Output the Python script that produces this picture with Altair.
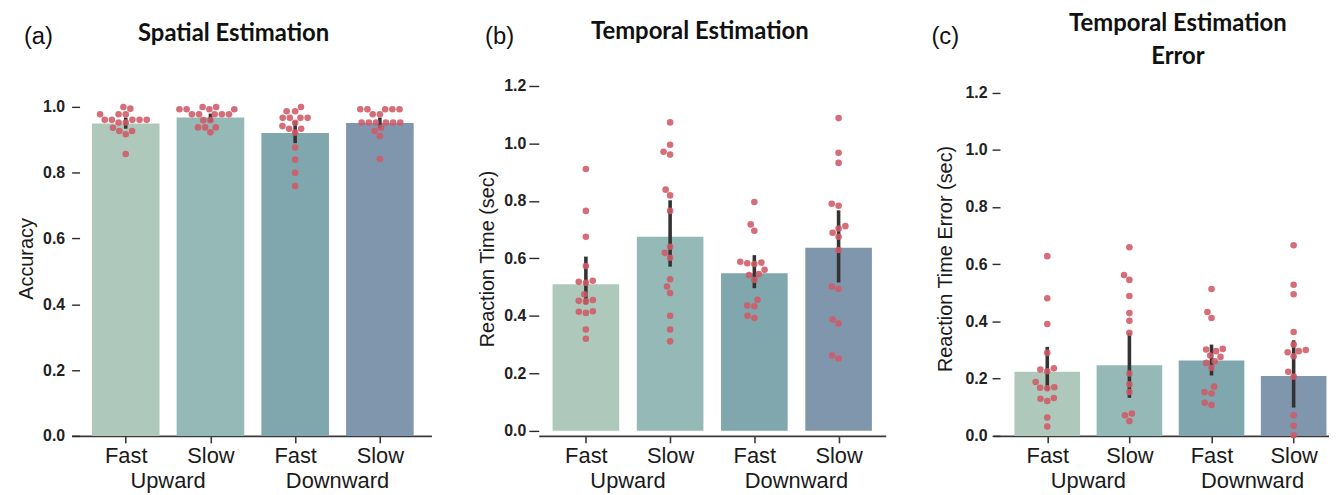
import altair as alt
import pandas as pd

# ---------------- data ----------------
conditions = ["Fast", "Slow", "Fast", "Slow"]
groups = ["Upward", "Downward"]
group_centers = [0.5, 2.5]
bar_colors = ["#aec9bb", "#95b9b6", "#80a6ae", "#8096ad"]
point_color = "#cf5a66"

# (a) Spatial Estimation - accuracy
spatial_mean = [0.950, 0.968, 0.921, 0.951]
spatial_lo = [0.934, 0.955, 0.890, 0.935]
spatial_hi = [0.968, 0.980, 0.958, 0.968]
spatial_fast_up = [1.0, 0.995, 0.978, 0.978, 0.978, 0.961, 0.961, 0.961, 0.961, 0.961,
                   0.953, 0.953, 0.937, 0.927, 0.927, 0.917, 0.857]
spatial_slow_up = [1.0, 1.0, 0.993, 0.993, 0.993, 0.993, 0.978, 0.978, 0.978, 0.978,
                   0.978, 0.960, 0.960, 0.938, 0.938, 0.938, 0.923]
spatial_fast_down = [1.0, 0.987, 0.987, 0.967, 0.967, 0.967, 0.967, 0.952, 0.942, 0.934,
                     0.934, 0.922, 0.877, 0.840, 0.800, 0.760]
spatial_slow_down = [0.993, 0.993, 0.993, 0.993, 0.993, 0.978, 0.978, 0.953, 0.953, 0.953,
                     0.953, 0.953, 0.953, 0.937, 0.927, 0.912, 0.842]

# (b) Temporal Estimation - reaction time (sec)
temporal_mean = [0.510, 0.675, 0.548, 0.637]
temporal_lo = [0.440, 0.571, 0.496, 0.516]
temporal_hi = [0.606, 0.802, 0.611, 0.767]
temporal_fast_up = [0.911, 0.765, 0.675, 0.573, 0.522, 0.518, 0.515, 0.475, 0.455, 0.452,
                    0.450, 0.416, 0.414, 0.410, 0.352, 0.320]
temporal_slow_up = [1.073, 0.995, 0.971, 0.961, 0.839, 0.819, 0.765, 0.640, 0.619, 0.602,
                    0.527, 0.502, 0.479, 0.400, 0.352, 0.311]
temporal_fast_down = [0.796, 0.718, 0.696, 0.588, 0.585, 0.583, 0.580, 0.560, 0.545, 0.542,
                      0.525, 0.456, 0.436, 0.433, 0.400, 0.392]
temporal_slow_down = [1.088, 0.967, 0.932, 0.790, 0.783, 0.712, 0.704, 0.689, 0.675, 0.629,
                      0.502, 0.493, 0.387, 0.373, 0.262, 0.251]

# (c) Temporal Estimation Error - reaction time error (sec)
error_mean = [0.224, 0.247, 0.263, 0.209]
error_lo = [0.160, 0.133, 0.211, 0.099]
error_hi = [0.311, 0.360, 0.319, 0.334]
error_fast_up = [0.628, 0.481, 0.391, 0.290, 0.236, 0.232, 0.226, 0.188, 0.170, 0.168,
                 0.166, 0.132, 0.130, 0.122, 0.064, 0.033]
error_slow_up = [0.659, 0.562, 0.545, 0.489, 0.429, 0.402, 0.360, 0.218, 0.180, 0.153,
                 0.078, 0.072, 0.052]
error_fast_down = [0.513, 0.433, 0.412, 0.304, 0.302, 0.296, 0.281, 0.276, 0.261, 0.255,
                   0.238, 0.172, 0.153, 0.148, 0.116, 0.108]
error_slow_down = [0.666, 0.528, 0.495, 0.363, 0.319, 0.300, 0.296, 0.292, 0.278, 0.224,
                   0.207, 0.072, 0.035, 0.002]

# ---------------- layout constants ----------------
H = 357
DOT = 7.4
FONT = "Liberation Sans"
TITLE_FONT = "Lato"


def swarm(values, px_per_y, d):
    """Simple beeswarm: pixel x-offsets so that dots of diameter d do not overlap."""
    ys = [v * px_per_y for v in values]
    order = sorted(range(len(values)), key=lambda i: values[i])
    placed = []
    offs = [0.0] * len(values)
    for i in order:
        y = ys[i]
        cands = [0.0]
        for px, py in placed:
            dy = abs(py - y)
            if dy < d:
                dx = (d * d - dy * dy) ** 0.5
                cands += [px + dx, px - dx]
        cands.sort(key=lambda c: (abs(c), c))
        chosen = 0.0
        for c in cands:
            if all((c - px) ** 2 + (y - py) ** 2 >= d * d - 1e-6 for px, py in placed):
                chosen = c
                break
        placed.append((chosen, y))
        offs[i] = chosen
    return offs


def panel(letter, title_lines, title_x, ytitle, means, los, his, series,
          xdom, width, ydom, yvals, bar_px, yaxis_offset, tick_size, label_pad,
          title_pad, letter_x, title_ys, clip_bars=False):
    px_x = width / (xdom[1] - xdom[0])
    px_y = H / (ydom[1] - ydom[0])

    bars = pd.DataFrame({"idx": list(range(4)), "mean": means, "lo": los, "hi": his,
                         "cond": [f"c{i}" for i in range(4)]})
    rows = []
    for i, vals in enumerate(series):
        offs = swarm(vals, px_y, DOT)
        for v, o in zip(vals, offs):
            rows.append({"xpos": i + o / px_x, "value": v})
    pts = pd.DataFrame(rows)

    xscale = alt.Scale(domain=xdom, nice=False, zero=False)
    yscale = alt.Scale(domain=ydom, nice=False, zero=False)

    xaxis = alt.Axis(values=[0, 1, 2, 3],
                     labelExpr="%s[datum.value]" % str(conditions),
                     title=None, grid=False, domainColor="#3a3a3a", domainWidth=1.6,
                     tickColor="#3a3a3a", tickWidth=1.6, tickSize=7, labelPadding=3,
                     labelFont=FONT, labelFontSize=22, labelColor="#1a1a1a",
                     labelFlush=False)
    yaxis = alt.Axis(values=yvals, format=".1f", domain=False, grid=False,
                     offset=yaxis_offset, tickSize=tick_size, tickColor="#2a2a2a",
                     tickWidth=1.4, labelPadding=label_pad, labelFont=FONT,
                     labelFontSize=16, labelFontWeight="bold", labelColor="#222222",
                     title=ytitle, titleFont=FONT, titleFontSize=20,
                     titleFontWeight="normal", titleColor="#1a1a1a",
                     titlePadding=title_pad)

    bar_layer = alt.Chart(bars).mark_bar(size=bar_px, clip=clip_bars).encode(
        x=alt.X("idx:Q", scale=xscale, axis=xaxis),
        y=alt.Y("mean:Q", scale=yscale, axis=yaxis),
        color=alt.Color("cond:N", scale=alt.Scale(domain=[f"c{i}" for i in range(4)],
                                                   range=bar_colors), legend=None),
    )
    err_layer = alt.Chart(bars).mark_rule(strokeWidth=3.6, color="#333333").encode(
        x="idx:Q", y="lo:Q", y2="hi:Q")
    pt_layer = alt.Chart(pts).mark_circle(size=44, color=point_color, opacity=0.88).encode(
        x="xpos:Q", y="value:Q")
    grp_layer = alt.Chart(pd.DataFrame({"g": groups, "gx": group_centers})).mark_text(
        font=FONT, fontSize=22, color="#1a1a1a", baseline="alphabetic", align="center"
    ).encode(x="gx:Q", y=alt.value(H + 52), text="g:N")

    layers = [bar_layer, err_layer, pt_layer, grp_layer]
    for line, ty in zip(title_lines, title_ys):
        layers.append(alt.Chart(pd.DataFrame({"t": [line]})).mark_text(
            font=TITLE_FONT, fontSize=24, fontWeight="bold", color="#111111",
            baseline="alphabetic", align="center"
        ).encode(x=alt.value(title_x), y=alt.value(ty), text="t:N"))
    layers.append(alt.Chart(pd.DataFrame({"t": [letter]})).mark_text(
        font=FONT, fontSize=24, color="#111111", baseline="alphabetic", align="left"
    ).encode(x=alt.value(letter_x), y=alt.value(-37), text="t:N"))

    return alt.layer(*layers).properties(width=width, height=H)


pa = panel("(a)", ["Spatial Estimation"], 163, "Accuracy",
           spatial_mean, spatial_lo, spatial_hi,
           [spatial_fast_up, spatial_slow_up, spatial_fast_down, spatial_slow_down],
           [-0.58, 3.55], 362, [0.0, 1.079], [0, 0.2, 0.4, 0.6, 0.8, 1.0], 68,
           -8, 8, 7, 6, -48, [-40])
pb = panel("(b)", ["Temporal Estimation"], 162, "Reaction Time (sec)",
           temporal_mean, temporal_lo, temporal_hi,
           [temporal_fast_up, temporal_slow_up, temporal_fast_down, temporal_slow_down],
           [-0.5, 3.5], 349, [-0.018, 1.217], [0, 0.2, 0.4, 0.6, 0.8, 1.0, 1.2], 67,
           0, 10, 3, 6, -54, [-42])
pc = panel("(c)", ["Temporal Estimation", "Error"], 186, "Reaction Time Error (sec)",
           error_mean, error_lo, error_hi,
           [error_fast_up, error_slow_up, error_fast_down, error_slow_down],
           [-0.6, 3.37], 338, [0.0, 1.24], [0, 0.2, 0.4, 0.6, 0.8, 1.0, 1.2], 66,
           -7, 8, 5, 10, -62, [-50, -17], clip_bars=True)

chart = alt.hconcat(pa, pb, pc, spacing=108, bounds="flush").properties(
    padding={"left": 8, "top": 3, "right": 0, "bottom": 0}
).configure_view(stroke=None)

chart.save("out.html", embed_options={"renderer": "svg", "actions": False})
